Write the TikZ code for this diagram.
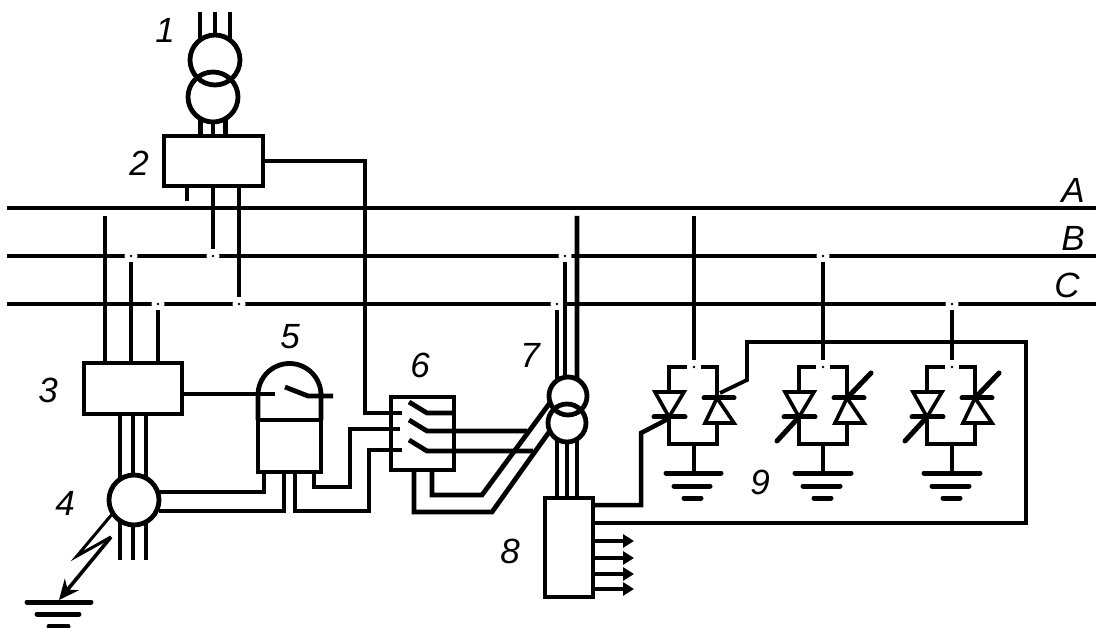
\documentclass[tikz,border=0pt]{standalone}
\usepackage{fontspec}
\setmainfont{Liberation Sans}
\usetikzlibrary{arrows.meta}
\tikzset{
  bus/.style={black,line width=4.8pt},
  wire/.style={black,line width=4.5pt},
  signal/.style={black,line width=3.8pt},
  blockbox/.style={rectangle,draw=black,line width=4.8pt,inner sep=0pt,outer sep=0pt},
  coil/.style={circle,draw=black,line width=4.8pt,inner sep=0pt,outer sep=0pt},
  tap/.style={circle,fill=white,inner sep=0pt,outer sep=0pt,minimum size=13pt,
    path picture={\fill[black] (path picture bounding box.center) circle (1.3pt);}},
  valve/.style={black,line width=3.6pt,line join=miter},
  bar/.style={black,line width=5pt,line cap=round},
  lever/.style={black,line width=4.8pt},
  tag/.style={font=\fontsize{35}{35}\selectfont\itshape,text=black,inner sep=0pt}
}
\begin{document}
\begin{tikzpicture}[x=1pt,y=-1pt]
\useasboundingbox (0,0) rectangle (1096,628);
% buses
\draw[bus] (7,208) -- (1096,208);
\draw[bus] (7,256) -- (1096,256);
\draw[bus] (7,304) -- (1096,304);
\node[tap] (tapB1) at (131,256) {};
\node[tap] (tapB2) at (213,256) {};
\node[tap] (tapB3) at (565,256) {};
\node[tap] (tapB4) at (823,256) {};
\node[tap] (tapC1) at (158,304) {};
\node[tap] (tapC2) at (239,304) {};
\node[tap] (tapC3) at (557,304) {};
\node[tap] (tapC4) at (952,304) {};

% input transformer and measuring block
\node[coil,minimum size=50pt] (trInA) at (215,60) {};
\node[coil,minimum size=50pt] (trInB) at (213,97) {};
\node[blockbox,minimum width=99pt,minimum height=50pt] (box2) at (213.5,161) {};
\draw[bus] (trInA.127) -- (trInA.127 |- 0,12);
\draw[bus] (trInA.90) -- (trInA.90 |- 0,12);
\draw[bus] (trInA.53) -- (trInA.53 |- 0,12);
\draw[bus] (trInB.239) -- (trInB.239 |- box2.north);
\draw[bus] (trInB.270) -- (trInB.270 |- box2.north);
\draw[bus] (trInB.301) -- (trInB.301 |- box2.north);
\draw[bus] (187,186) -- (187,201);
\draw[bus] (tapB2 |- box2.south) -- (tapB2);
\draw[bus] (tapC2 |- box2.south) -- (tapC2);

% block 3 and the earth fault sensor
\node[blockbox,minimum width=98pt,minimum height=51pt] (box3) at (133,388.5) {};
\draw[bus] (105,216) -- (105,363);
\draw[bus] (tapB1) -- (tapB1 |- box3.north);
\draw[bus] (tapC1) -- (tapC1 |- box3.north);
\draw[bus] (120,414) -- (120,560);
\draw[bus] (133,414) -- (133,560);
\draw[bus] (146,414) -- (146,560);
\node[coil,fill=white,minimum size=50pt] (sensor4) at (134,500) {};
\draw[black,line width=3pt,line join=miter] (sensor4.212) -- (77,556) -- (111,537);
\draw[black,line width=3.6pt,-{Stealth[length=20pt,width=18pt]}] (111,537) -- (59,600);
\draw[bar] (27,602) -- (91,602);
\draw[bar] (37,614) -- (79,614);
\draw[bar] (49,626) -- (68,626);

% relay 5
\node[blockbox,minimum width=63pt,minimum height=52pt] (box5) at (289.5,446) {};
\draw[bus] (box5.north west) -- (258,395) arc[start angle=180,end angle=0,radius=31.5pt] -- (box5.north east);
\draw[wire] (box3.east |- 0,394) -- (275,394);
\draw[lever] (285,387) -- (308,396) -- (333,396);
\draw[signal] (sensor4.east |- 0,492) -| (264,472);
\draw[wire] (sensor4.east |- 0,511) -| (284,472);
\draw[wire] (295,472) |- (369,511) |- (402,450);
\draw[wire] (314,472) |- (350,487) |- (400,429);

% switch block 6
\node[blockbox,minimum width=63pt,minimum height=73pt] (box6) at (422.5,433.5) {};
\draw[signal] (box2.east) -| (365,413) -- (402,413);
\draw[lever] (409,402) -- (427,413) -- (box6.east |- 0,413);
\draw[lever] (409,420) -- (427,431) -- (527,431);
\draw[lever] (409,440) -- (427,451) -- (533,451);

% transformer 7 and block 8
\node[coil,minimum size=38pt] (trOutA) at (568,396) {};
\node[coil,minimum size=38pt] (trOutB) at (567,423) {};
\node[blockbox,minimum width=48pt,minimum height=99pt] (box8) at (569,547.5) {};
\draw[bus] (577,216) -- (trOutA.62);
\draw[bus] (tapB3) -- (tapB3 |- trOutA.north);
\draw[bus] (tapC3) -- (tapC3 |- trOutA.120);
\draw[bus] (trOutB.238) -- (trOutB.238 |- box8.north);
\draw[bus] (trOutB.270) -- (trOutB.270 |- box8.north);
\draw[bus] (trOutB.302) -- (trOutB.302 |- box8.north);
\draw[bus] (432,470) |- (482,495) -- (trOutA.200);
\draw[bus] (414,470) |- (492,512) -- (trOutB.205);
\draw[wire] (box8.east |- 0,505) -| (641,433) -- (668,419);
\draw[signal] (box8.east |- 0,523) -| (1026,342) -| (747,380) -- (720,393);
\draw[bus,-{Triangle[length=11pt,width=13pt]}] (box8.east |- 0,541) -- (634,541);
\draw[bus,-{Triangle[length=11pt,width=13pt]}] (box8.east |- 0,558) -- (634,558);
\draw[bus,-{Triangle[length=11pt,width=13pt]}] (box8.east |- 0,574) -- (634,574);
\draw[bus,-{Triangle[length=11pt,width=13pt]}] (box8.east |- 0,589) -- (634,589);

% first valve pair
\node[tap] (tapU1) at (694,367) {};
\draw[bus] (694,216) -- (tapU1);
\draw[bus] (687,367) -| (669,392);
\draw[bus] (701,367) -| (717,398);
\draw[valve] (655,392) -- (684,392) -- (669,417) -- cycle;
\draw[valve] (717,398) -- (705,423) -- (734,423) -- cycle;
\draw[bar] (654,417) -- (685,417);
\draw[bar] (704,398) -- (734,398);
\draw[bus] (669,417) |- (717,444) -- (717,423);
\draw[bus] (694,444) -- (694,473);
\draw[bar] (666,473) -- (721,473);
\draw[bar] (674,486) -- (710,486);
\draw[bar] (684,498) -- (701,498);

% second valve pair
\node[tap] (tapU2) at (823,367) {};
\draw[bus] (tapB4) -- (tapU2);
\draw[bus] (816,367) -| (799,392);
\draw[bus] (830,367) -| (847,398);
\draw[valve] (785,392) -- (814,392) -- (799,417) -- cycle;
\draw[valve] (847,398) -- (835,423) -- (864,423) -- cycle;
\draw[bar] (784,417) -- (815,417);
\draw[bar] (834,398) -- (864,398);
\draw[bus] (799,417) |- (847,444) -- (847,423);
\draw[bus] (823,444) -- (823,473);
\draw[bar] (795,473) -- (851,473);
\draw[bar] (803,486) -- (840,486);
\draw[bar] (814,498) -- (831,498);
\draw[bar] (777,441) -- (799,417);
\draw[bar] (871,373) -- (847,398);

% third valve pair
\node[tap] (tapU3) at (952,367) {};
\draw[bus] (tapC4) -- (tapU3);
\draw[bus] (945,367) -| (927,392);
\draw[bus] (959,367) -| (975,398);
\draw[valve] (913,392) -- (942,392) -- (927,417) -- cycle;
\draw[valve] (975,398) -- (963,423) -- (992,423) -- cycle;
\draw[bar] (912,417) -- (943,417);
\draw[bar] (962,398) -- (992,398);
\draw[bus] (927,417) |- (975,444) -- (975,423);
\draw[bus] (952,444) -- (952,473);
\draw[bar] (924,473) -- (980,473);
\draw[bar] (932,486) -- (969,486);
\draw[bar] (943,498) -- (960,498);
\draw[bar] (905,441) -- (927,417);
\draw[bar] (999,373) -- (975,398);

% labels
\node[tag] (lab1) at (165,30) {1};
\node[tag] (lab2) at (139,163) {2};
\node[tag] (lab3) at (48,390) {3};
\node[tag] (lab4) at (65,503) {4};
\node[tag] (lab5) at (290,337) {5};
\node[tag] (lab6) at (420,365) {6};
\node[tag] (lab7) at (530,355) {7};
\node[tag] (lab8) at (510,551) {8};
\node[tag] (lab9) at (760,482) {9};
\node[tag] (labA) at (1073,190) {A};
\node[tag] (labB) at (1073,238) {B};
\node[tag] (labC) at (1067,285) {C};

\end{tikzpicture}
\end{document}
